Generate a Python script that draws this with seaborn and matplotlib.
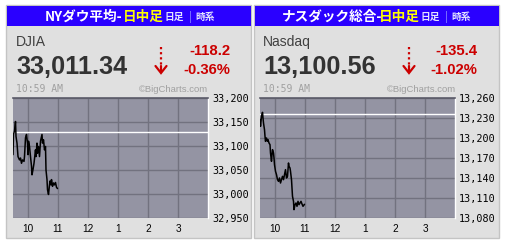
import matplotlib
matplotlib.use("Agg")
import matplotlib.pyplot as plt
from matplotlib.patches import Rectangle
from matplotlib.lines import Line2D
import seaborn as sns
import pandas as pd

# ---------------- data ----------------
djia_minutes = [0, 1, 3, 5, 6, 8, 10, 13, 15, 17, 19, 22, 23, 25, 27, 29, 30, 31, 33, 35,
                37, 38, 40, 42, 45, 46, 48, 49, 51, 53, 55, 58, 59, 61, 63, 65, 66, 68, 69, 71,
                73, 74, 76, 77, 79, 81, 83, 85, 87, 89]
djia_values = [33082, 33125, 33131, 33151, 33120, 33106, 33078, 33071, 33075, 33064,
               33071, 33068, 33078, 33117, 33124, 33106, 33082, 33110, 33099, 33078,
               33058, 33040, 33051, 33064, 33092, 33078, 33106, 33085, 33099, 33078,
               33110, 33124, 33106, 33113, 33092, 33099, 33050, 33030, 33009, 32999,
               33019, 33027, 33019, 33030, 33016, 33023, 33019, 33024, 33014, 33011.34]
nasdaq_minutes = [0, 1, 3, 5, 6, 7, 9, 10, 11, 13, 15, 16, 18, 20, 21, 23, 24, 25, 27, 28,
                  29, 31, 33, 35, 37, 39, 41, 43, 45, 47, 49, 51, 53, 55, 57, 58, 60, 61, 63, 64,
                  65, 67, 68, 70, 72, 74, 76, 78, 80, 82, 84, 86, 89]
nasdaq_values = [13227.5, 13217.5, 13232.5, 13238.5, 13230, 13222.5, 13212.5, 13202.5, 13195,
                 13200, 13195, 13197.5, 13192.5, 13190, 13177.5, 13165, 13175, 13182.5,
                 13177.5, 13170, 13160, 13150, 13145, 13137.5, 13135, 13140, 13132.5,
                 13137.5, 13142.5, 13137.5, 13145, 13152.5, 13140, 13142.5, 13162.5,
                 13157.5, 13155, 13150, 13137.5, 13125, 13112.5, 13105, 13092.5, 13100,
                 13102.5, 13097.5, 13105, 13100, 13102.5, 13105, 13101, 13097.5, 13100.56]

djia_prev_close = 33129.54
nasdaq_prev_close = 13235.96

hour_ticks = [10, 11, 12, 13, 14, 15]
hour_labels = ["10", "11", "12", "1", "2", "3"]
djia_yticks = [32950, 33000, 33050, 33100, 33150, 33200]
nasdaq_yticks = [13080, 13110, 13140, 13170, 13200, 13230, 13260]

panels = [
    dict(title="NYダウ平均-", name="DJIA", last="33,011.34", chg="-118.2", pct="-0.36%",
         minutes=djia_minutes, values=djia_values, prev=djia_prev_close, yticks=djia_yticks),
    dict(title="ナスダック総合-", name="Nasdaq", last="13,100.56", chg="-135.4", pct="-1.02%",
         minutes=nasdaq_minutes, values=nasdaq_values, prev=nasdaq_prev_close, yticks=nasdaq_yticks),
]

# ---------------- layout ----------------
W, H = 508, 240
sns.set_style("white")
plt.rcParams["font.family"] = ["Liberation Sans", "DejaVu Sans"]

fig = plt.figure(figsize=(W / 100, H / 100), dpi=100)
fig.patch.set_facecolor("white")


def fx(x):
    return x / W


def fy(y):
    return 1 - y / H


cjk = ["Noto Sans CJK JP", "DejaVu Sans"]
blue = "#2a00ff"
red = "#cc0000"
plot_bg = "#9494a3"
grid_c = "#72727f"

layout = [
    dict(px=6, pw=245, t1=45, t2=122.5, t3=165, t4=189, t5=195, tx=16, arrow=161, redr=230,
         bcr=208, ax0=13, ax1=208),
    dict(px=254, pw=245, t1=282, t2=379, t3=421, t4=445, t5=451, tx=263, arrow=409, redr=477,
         bcr=456, ax0=260, ax1=455),
]

for p, L in zip(panels, layout):
    # panel background
    fig.add_artist(Rectangle((fx(L["px"]), fy(238)), L["pw"] / W, (238 - 5) / H,
                             transform=fig.transFigure, facecolor="#e0e0e0",
                             edgecolor="#c4c4c4", linewidth=1, zorder=0))
    fig.add_artist(Rectangle((fx(L["px"] + 1), fy(26)), (L["pw"] - 1) / W, 20 / H,
                             transform=fig.transFigure, facecolor=blue,
                             edgecolor="none", zorder=1))
    # header texts
    fig.text(fx(L["t1"]), fy(16.5), p["title"], color="white", fontsize=9.8,
             fontweight="bold", family=cjk, va="center", ha="left")
    fig.text(fx(L["t2"]), fy(16.5), "日中足", color="#ffff00", fontsize=9.8,
             fontweight="bold", family=cjk, va="center", ha="left")
    fig.text(fx(L["t3"]), fy(17), "日足", color="#e4e4ff", fontsize=7,
             fontweight="bold", family=cjk, va="center", ha="left")
    fig.text(fx(L["t4"]), fy(17), "|", color="#9fa8ff", fontsize=7.5,
             family=cjk, va="center", ha="left")
    fig.text(fx(L["t5"]), fy(17), "時系", color="#e4e4ff", fontsize=7,
             fontweight="bold", family=cjk, va="center", ha="left")

    # quote texts
    fig.text(fx(L["tx"]), fy(46), p["name"], color="#404040", fontsize=10,
             va="baseline", ha="left")
    fig.text(fx(L["tx"]), fy(74), p["last"], color="#333333", fontsize=18.2,
             fontweight="bold", va="baseline", ha="left")
    fig.text(fx(L["redr"]), fy(55), p["chg"], color=red, fontsize=10.7,
             fontweight="bold", va="baseline", ha="right")
    fig.text(fx(L["redr"]), fy(73.5), p["pct"], color=red, fontsize=10.7,
             fontweight="bold", va="baseline", ha="right")
    # arrow
    a = L["arrow"]
    fig.add_artist(Line2D([fx(a), fx(a)], [fy(47), fy(66)], transform=fig.transFigure,
                          color=red, linewidth=1.6, linestyle=(0, (1, 1.3))))
    fig.add_artist(Line2D([fx(a - 5.5), fx(a), fx(a + 5.5)], [fy(66), fy(73), fy(66)],
                          transform=fig.transFigure, color=red, linewidth=1.6,
                          solid_joinstyle="miter"))
    fig.add_artist(Line2D([fx(a), fx(a)], [fy(66), fy(72.5)], transform=fig.transFigure,
                          color=red, linewidth=1.6))
    fig.text(fx(L["tx"]), fy(92), "10:59 AM", color="#a0a0a0", fontsize=7,
             family="DejaVu Sans Mono", va="baseline", ha="left")
    fig.text(fx(L["bcr"]), fy(92), "©BigCharts.com", color="#a0a0a0", fontsize=6.8,
             va="baseline", ha="right")

    # chart axes
    ax = fig.add_axes([fx(L["ax0"]), fy(218), (L["ax1"] - L["ax0"]) / W, 120 / H])
    ax.set_facecolor(plot_bg)
    df = pd.DataFrame({"t": [9.5 + m / 60 for m in p["minutes"]], "v": p["values"]})
    ax.axhline(p["prev"], color="white", linewidth=1, zorder=2)
    sns.lineplot(data=df, x="t", y="v", ax=ax, color="black", linewidth=1.1, zorder=3)
    ax.set_xlim(9.5, 16)
    ax.set_ylim(p["yticks"][0], p["yticks"][-1])
    ax.set_xticks(hour_ticks)
    ax.set_xticklabels(hour_labels, fontsize=7.2)
    ax.set_yticks(p["yticks"])
    ax.set_yticklabels([f"{v:,}" for v in p["yticks"]], fontsize=7.3,
                       family="DejaVu Sans Mono")
    ax.yaxis.tick_right()
    ax.tick_params(axis="both", length=0, colors="black")
    ax.tick_params(axis="y", pad=3)
    ax.tick_params(axis="x", pad=4)
    ax.grid(True, color=grid_c, linewidth=1)
    ax.set_axisbelow(True)
    ax.set_xlabel("")
    ax.set_ylabel("")
    for s in ["left", "bottom"]:
        ax.spines[s].set_visible(False)
    ax.spines["top"].set_color("#5a5a68")
    ax.spines["top"].set_linewidth(1.2)
    ax.spines["right"].set_color("white")
    ax.spines["right"].set_linewidth(1)

fig.savefig("out.png", dpi=100, facecolor="white")
